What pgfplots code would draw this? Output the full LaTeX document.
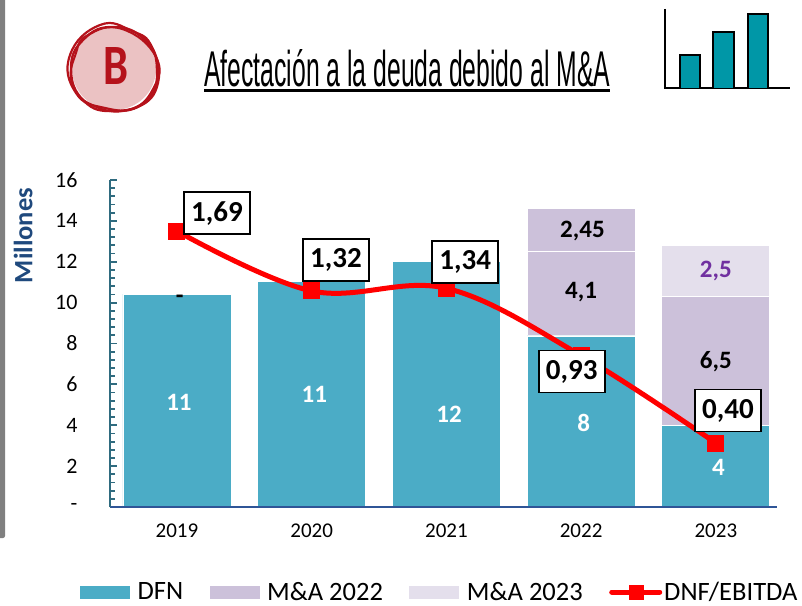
\documentclass[border=0pt]{standalone}
\usepackage{pgfplots}
\usepackage{graphicx}
\usepackage{fontspec}
\pgfplotsset{compat=1.18}
\setmainfont{Carlito}
\newfontfamily\titlefont{Liberation Sans}
\definecolor{dfn}{HTML}{4BACC6}
\definecolor{ma22}{HTML}{CCC1DA}
\definecolor{ma23}{HTML}{E4DFEC}
\definecolor{navy}{HTML}{2F5597}
\definecolor{ylab}{HTML}{1F497D}
\definecolor{tealax}{HTML}{2F6B7F}
\definecolor{logor}{HTML}{B5121B}
\definecolor{logop}{HTML}{EBC2C3}
\definecolor{icon}{HTML}{0097A7}
\definecolor{purp}{HTML}{7030A0}
\newcommand{\fs}[1]{\fontsize{#1}{#1}\selectfont}
\tikzset{
 lab/.style={font=\fs{25}\bfseries,text=white,inner sep=0pt},
 blab/.style={font=\fs{25}\bfseries,text=black,inner sep=0pt},
 boxl/.style={draw=black,line width=1.7pt,fill=white,font=\fs{29}\bfseries,minimum width=66pt,minimum height=42pt,inner sep=0pt}}
\begin{document}
\begin{tikzpicture}[x=1pt,y=1pt]
\useasboundingbox (0,0) rectangle (802,605);
% left grey strip
\fill[gray,rounded corners=2pt] (-5,67) rectangle (5,610);
% logo
\fill[logop] (114,536) ellipse [x radius=42,y radius=41];
\draw[logor,line width=2.4pt] plot[smooth cycle,tension=0.8] coordinates {(114,578)(145,565)(157,536)(147,505)(114,494)(84,504)(71,536)(84,566)};
\draw[logor,line width=2.2pt] plot[smooth cycle,tension=0.8] coordinates {(100,580)(132,574)(152,558)(158,522)(138,498)(105,497)(76,512)(70,550)};
\draw[logor,line width=2pt] plot[smooth cycle,tension=0.8] coordinates {(88,570)(122,576)(156,548)(153,516)(128,495)(92,500)(72,522)(76,552)};
\node[text=logor,inner sep=0pt] at (115.5,538.5) {\resizebox{25pt}{37pt}{\bfseries B}};
% title
\node[anchor=south west,inner sep=0pt] at (204,517.5) {\resizebox{406pt}{37pt}{\titlefont Afectación a la deuda debido al M\&A}};
\fill[black] (204,513) rectangle (610,515.5);
% icon
\draw[black,line width=1.5pt] (665,596)--(665,517)--(790,517);
\foreach \a/\b/\t in {680/700/550,713/734/573,748/768/591}{
 \fill[icon] (\a,517) rectangle (\b,\t);
 \draw[black,line width=1.5pt] (\a,517)--(\a,\t)--(\b,\t)--(\b,517);
}
\begin{axis}[
 at={(110pt,98pt)},anchor=south west,scale only axis,width=667pt,height=327pt,
 ybar stacked,bar width=108pt,
 xmin=-0.497,xmax=4.454,ymin=0,ymax=16,
 axis lines=left,axis line style={-},clip=false,axis on top,
 x axis line style={navy,line width=2.2pt},
 y axis line style={tealax,line width=2.2pt},
 xtick={0,1,2,3,4},xticklabels={2019,2020,2021,2022,2023},
 xtick style={draw=none},
 ytick={0,2,...,16},yticklabels={-,2,4,6,8,10,12,14,16},
 minor y tick num=4,
 ytick style={tealax,line width=1.8pt},
 minor y tick style={tealax,line width=1.8pt},
 tick align=inside,
 major tick length=7pt,minor tick length=5pt,
 /pgf/number format/assume math mode=true,
 xticklabel style={font=\fs{21},yshift=-13pt},
 yticklabel style={font=\fs{22},xshift=-29pt},
 ylabel={\fs{26.5}\bfseries\textcolor{ylab}{Millones}},
 ylabel style={at={(rel axis cs:-0.13,0.83)},anchor=center},
 legend columns=4,
 legend style={at={(-0.045,-0.26)},anchor=west,draw=none,fill=none,inner sep=0pt,font=\fs{26.5},
   /tikz/every even column/.append style={column sep=24.5pt}},
 legend image code/.code={\fill[#1,draw=none] (-6pt,-6.5pt) rectangle (44pt,6.5pt);\path (49pt,0);},
]
\addplot[fill=dfn,draw=white,line width=0.8pt] coordinates {(0,10.42)(1,11.05)(2,12.03)(3,8.37)(4,4.0)};
\addlegendentry{DFN}
\addplot[fill=ma22,draw=white,line width=1pt] coordinates {(0,0)(1,0)(2,0)(3,4.15)(4,6.3)};
\addlegendentry{M\&A 2022}
\addplot[forget plot,fill=ma22,draw=white,line width=1pt] coordinates {(0,0)(1,0)(2,0)(3,2.1)(4,0)};
\addplot[fill=ma23,draw=white,line width=1pt] coordinates {(0,0)(1,0)(2,0)(3,0)(4,2.5)};
\addlegendentry{M\&A 2023}
\addlegendimage{legend image code/.code={\draw[red,line width=5pt,line cap=round] (-4pt,0)--(44pt,0);\fill[red] (13pt,-7pt) rectangle (27pt,7pt);}}
\addlegendentry{DNF/EBITDA}
\end{axis}
\begin{axis}[
 at={(110pt,98pt)},anchor=south west,scale only axis,width=667pt,height=327pt,
 xmin=-0.497,xmax=4.454,ymin=0,ymax=16,hide axis,clip=false]
\node[lab] at (axis cs:0.015,5.14) {11};
\node[lab] at (axis cs:1.02,5.53) {11};
\node[lab] at (axis cs:2.02,4.55) {12};
\node[lab] at (axis cs:3.02,4.11) {8};
\node[lab] at (axis cs:4.02,1.96) {4};
\node[blab] at (axis cs:3.01,13.5) {2,45};
\node[blab] at (axis cs:3.0,10.52) {4,1};
\node[blab] at (axis cs:4.0,7.09) {6,5};
\node[blab,text=purp] at (axis cs:4.0,11.55) {2,5};
\node[blab] at (axis cs:0.02,10.16) {-};
\addplot[red,line width=5pt,smooth,tension=0.6,mark=square*,mark size=6pt,mark options={solid,fill=red,draw=none}]
 coordinates {(0,13.5)(1,10.57)(2,10.7)(3,7.41)(4,3.13)};
\end{axis}
\begin{axis}[
 at={(110pt,98pt)},anchor=south west,scale only axis,width=667pt,height=327pt,
 xmin=-0.497,xmax=4.454,ymin=0,ymax=16,hide axis,clip=false]
\node[boxl] at (axis cs:0.297,14.38) {1,69};
\node[boxl] at (axis cs:1.18,12.08) {1,32};
\node[boxl] at (axis cs:2.14,11.99) {1,34};
\node[boxl] at (axis cs:2.93,6.63) {0,93};
\node[boxl] at (axis cs:4.09,4.72) {0,40};
\end{axis}
\end{tikzpicture}
\end{document}
